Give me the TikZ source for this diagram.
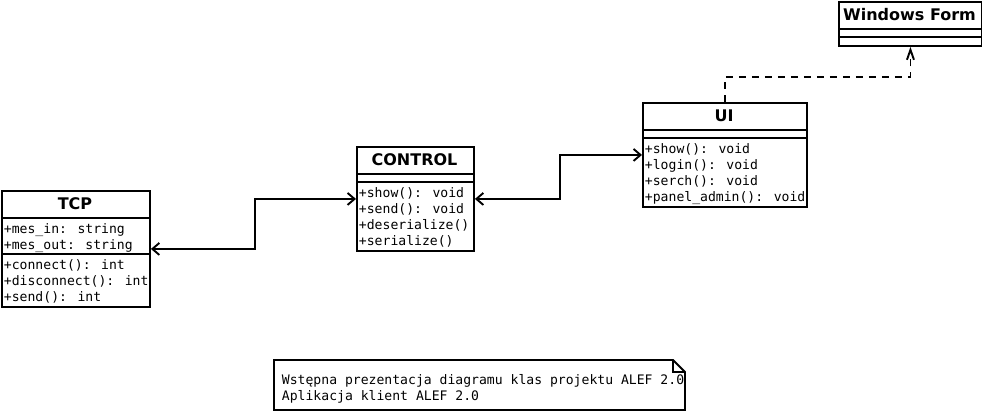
\documentclass[tikz,border=0pt]{standalone}
\usepackage{fontspec}
\setmainfont{DejaVu Sans}
\newfontfamily\monofont{DejaVu Sans Mono}
\usetikzlibrary{arrows.meta}

\begin{document}
\begin{tikzpicture}[x=1pt,y=-1pt,line width=1.9pt,
    box/.style={draw,anchor=north west,inner sep=0pt},
    title/.style={anchor=base,font=\fontsize{16}{16}\selectfont\bfseries,inner sep=0pt},
    member/.style={anchor=base west,font=\monofont\fontsize{13.1}{16}\selectfont,inner sep=0pt},
    assoc/.style={{Straight Barb[length=7pt,width=12pt]}-{Straight Barb[length=7pt,width=12pt]}},
    realize/.style={dash pattern=on 7pt off 6pt,-{Straight Barb[length=10pt,width=7pt]}}]
  \useasboundingbox (0,0) rectangle (982,411);

  % TCP
  \node (tcp) [box,minimum width=148pt,minimum height=116pt] at (1,190) {};
  \node [title] at (75,209.5) {TCP};
  \draw (tcp.west |- 0,218) -- (tcp.east |- 0,218);
  \draw (tcp.west |- 0,254) -- (tcp.east |- 0,254);
  \foreach \t [count=\i] in {+mes\_in: string,+mes\_out: string}
    \node [member] at (3,{218+15.5+16*(\i-1)}) {\t};
  \foreach \t [count=\i] in {+connect(): int,+disconnect(): int,+send(): int}
    \node [member] at (3,{254+15.5+16*(\i-1)}) {\t};

  % CONTROL
  \node (ctrl) [box,minimum width=117pt,minimum height=104pt] at (356,146) {};
  \node [title] at (414.5,165.5) {CONTROL};
  \draw (ctrl.west |- 0,174) -- (ctrl.east |- 0,174);
  \draw (ctrl.west |- 0,182) -- (ctrl.east |- 0,182);
  \foreach \t [count=\i] in {+show(): void,+send(): void,+deserialize(),+serialize()}
    \node [member] at (358,{182+15.5+16*(\i-1)}) {\t};

  % UI
  \node (ui) [box,minimum width=164pt,minimum height=104pt] at (642,102) {};
  \node [title] at (724,121.5) {UI};
  \draw (ui.west |- 0,130) -- (ui.east |- 0,130);
  \draw (ui.west |- 0,138) -- (ui.east |- 0,138);
  \foreach \t [count=\i] in {+show(): void,+login(): void,+serch(): void,+panel\_admin(): void}
    \node [member] at (644,{138+15.5+16*(\i-1)}) {\t};

  % Windows Form
  \node (wf) [box,minimum width=143pt,minimum height=44pt] at (838,1) {};
  \node [title] at (909.5,20.5) {Windows Form};
  \draw (wf.west |- 0,29) -- (wf.east |- 0,29);
  \draw (wf.west |- 0,37) -- (wf.east |- 0,37);

  % connectors
  \draw [assoc] (tcp.east) -- ++(104,0) |- (ctrl.west);
  \draw [assoc] (ctrl.east) -- ++(85,0) |- (ui.west);
  \draw [realize] (ui.north) -- ++(0,-25) -| (wf.south);

  % note
  \draw (274,360) -- (673,360) -- (685,372) -- (685,410) -- (274,410) -- cycle;
  \draw (673,360) -- (673,372) -- (685,372);
  \node (note) [member] at (281,384.5) {Wstępna prezentacja diagramu klas projektu ALEF 2.0};
  \node [member] at (281,400.5) {Aplikacja klient ALEF 2.0};
\end{tikzpicture}
\end{document}
